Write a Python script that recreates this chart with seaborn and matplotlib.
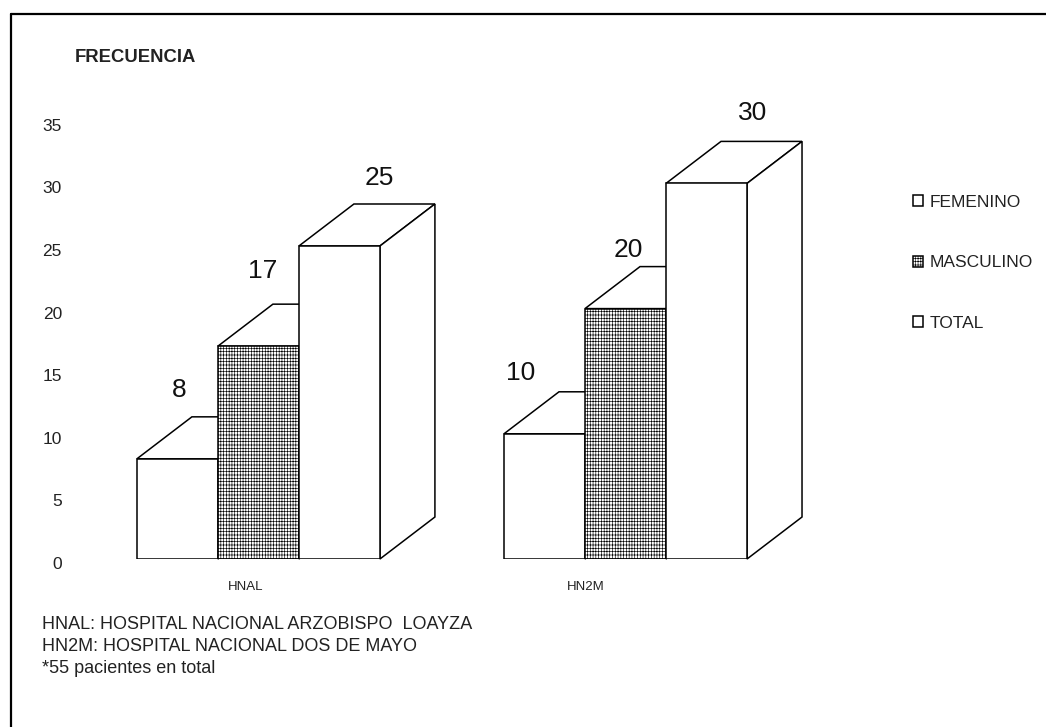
import pandas as pd
import numpy as np
import matplotlib.pyplot as plt
import matplotlib.transforms as mtransforms
from matplotlib.patches import Polygon
from matplotlib.lines import Line2D
import seaborn as sns

# Data
hospitales = ['HNAL', 'HN2M']
sexos = ['FEMENINO', 'MASCULINO', 'TOTAL']
femenino = [8, 10]
masculino = [17, 20]
total = [25, 30]
y_ticks = [0, 5, 10, 15, 20, 25, 30, 35]
notas = [
    "HNAL: HOSPITAL NACIONAL ARZOBISPO  LOAYZA",
    "HN2M: HOSPITAL NACIONAL DOS DE MAYO",
    "*55 pacientes en total",
]

# Pixel nudges for the value labels (dx, dy up) from the front top of each bar
label_nudge = {
    'FEMENINO': [(2, 69), (-24, 61)],
    'MASCULINO': [(4, 75), (3, 59)],
    'TOTAL': [(40, 68), (46, 70)],
}
xlabel_nudge = [-13, -40]

W, H = 1046, 727
DEPTH_X, DEPTH_Y = 55, 42  # 3D depth in pixels


def px_offset(fig, dx, dy):
    return mtransforms.ScaledTranslation(dx / fig.dpi, dy / fig.dpi, fig.dpi_scale_trans)


def make_chart():
    sns.set_theme(style='white')
    plt.rcParams['font.family'] = ['Liberation Sans', 'DejaVu Sans']
    plt.rcParams['hatch.linewidth'] = 0.45

    fig = plt.figure(figsize=(W / 100, H / 100), dpi=100)
    ax = fig.add_axes([80 / W, (H - 559) / H, 790 / W, 37 * 12.52 / H])

    df = pd.DataFrame({
        'hospital': hospitales * 3,
        'sexo': np.repeat(sexos, len(hospitales)),
        'frecuencia': femenino + masculino + total,
    })
    sns.barplot(data=df, x='hospital', y='frecuencia', hue='sexo',
                order=hospitales, hue_order=sexos, palette=['white'] * 3,
                saturation=1, width=0.662, edgecolor='black', linewidth=1.1,
                errorbar=None, legend=False, ax=ax)

    ax.set_xlim(-0.486, 1.666)
    ax.set_ylim(0, 37)

    # depth of the boxes in data units
    p0 = ax.transData.transform((0, 0))
    p1 = ax.transData.transform((1, 1))
    dx = DEPTH_X / (p1[0] - p0[0])
    dy = DEPTH_Y / (p1[1] - p0[1])

    for i, cont in enumerate(ax.containers):
        for bar in cont:
            x0, w, h = bar.get_x(), bar.get_width(), bar.get_height()
            bar.set_zorder(3 + 2 * i)
            top = Polygon([(x0, h), (x0 + dx, h + dy), (x0 + w + dx, h + dy), (x0 + w, h)],
                          closed=True, facecolor='white', edgecolor='black',
                          linewidth=1.1, zorder=2 + 2 * i, clip_on=False)
            side = Polygon([(x0 + w, 0), (x0 + w + dx, dy), (x0 + w + dx, h + dy), (x0 + w, h)],
                           closed=True, facecolor='white', edgecolor='black',
                           linewidth=1.1, zorder=2 + 2 * i, clip_on=False)
            ax.add_patch(top)
            ax.add_patch(side)

    # masculino bars get the fine grid texture
    for bar in ax.containers[1]:
        bar.set_hatch('|' * 6 + '-' * 5)

    # value labels
    for i, sexo in enumerate(sexos):
        for j, bar in enumerate(ax.containers[i]):
            ndx, ndy = label_nudge[sexo][j]
            ax.text(bar.get_x() + bar.get_width() / 2, bar.get_height(),
                    f'{bar.get_height():.0f}', ha='center', va='center',
                    fontsize=19, color='#111',
                    transform=ax.transData + px_offset(fig, ndx, ndy))

    # axes styling
    for s in ax.spines.values():
        s.set_visible(False)
    ax.set_xlabel('')
    ax.set_ylabel('')
    ax.set_yticks(y_ticks)
    ax.tick_params(axis='y', length=0, pad=13, labelsize=12.5, labelcolor='#222')
    ax.tick_params(axis='x', length=0, pad=16, labelsize=9.5, labelcolor='#222')
    for label in ax.get_yticklabels():
        label.set_transform(label.get_transform() + px_offset(fig, 0, -4))
    for label, nd in zip(ax.get_xticklabels(), xlabel_nudge):
        label.set_transform(label.get_transform() + px_offset(fig, nd, 0))

    # legend built from the bars themselves
    handles = [c.patches[0] for c in ax.containers]
    ax.legend(handles, sexos, loc='upper left',
              bbox_to_anchor=(913 / W, 1 - 195 / H), bbox_transform=fig.transFigure,
              frameon=False, fontsize=12.5, handlelength=0.6, handleheight=0.6,
              handletextpad=0.35, labelspacing=2.62, borderpad=0, borderaxespad=0,
              labelcolor='#222')

    # titles and notes
    fig.text(75 / W, 1 - 57 / H, 'FRECUENCIA', fontsize=13.3, fontweight='bold',
             ha='left', va='center', color='#222')
    fig.text(42 / W, 1 - 616 / H, '\n'.join(notas), fontsize=13, ha='left',
             va='top', linespacing=1.4, color='#222')

    # page frame (left and top edges)
    fig.add_artist(Line2D([11 / W, 11 / W], [0, 1 - 14 / H], color='black',
                          linewidth=1.6, transform=fig.transFigure))
    fig.add_artist(Line2D([11 / W, 1], [1 - 14 / H, 1 - 14 / H], color='black',
                          linewidth=1.6, transform=fig.transFigure))

    fig.savefig('out.png', dpi=100)
    plt.close(fig)


if __name__ == "__main__":
    make_chart()
